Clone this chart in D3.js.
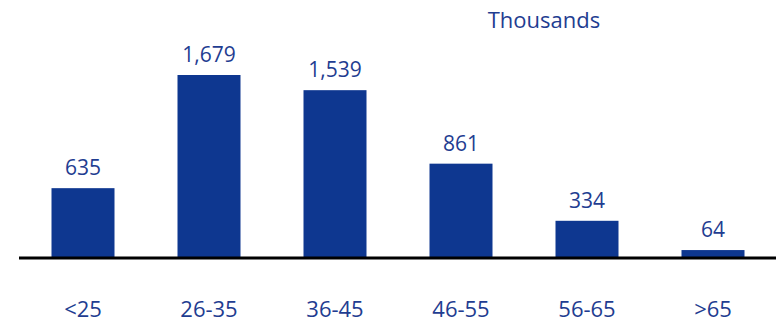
<!DOCTYPE html>
<html>
<head>
<meta charset="utf-8">
<script src="https://d3js.org/d3.v7.min.js"></script>
<style>
  body { margin: 0; background: #fff; }
  text { font-family: 'Open Sans', sans-serif; fill: #1f3d91; }
</style>
</head>
<body>
<svg id="chart" width="776" height="323"></svg>
<script>
  var categories = ["<25", "26-35", "36-45", "46-55", "56-65", ">65"];
  var values = [635, 1679, 1539, 861, 334, 64];
  var unitLabel = "Thousands";

  var svg = d3.select("#chart");
  var baseY = 257;

  var x = d3.scaleBand().domain(categories).range([20, 776]).paddingInner(0.5).paddingOuter(0.25);
  var y = d3.scaleLinear().domain([0, 1679]).range([baseY, 75]);

  svg.append("g").selectAll("rect")
    .data(values).join("rect")
    .attr("x", (d, i) => x(categories[i]))
    .attr("y", d => y(d))
    .attr("width", x.bandwidth())
    .attr("height", d => baseY - y(d))
    .attr("fill", "#0e3790");

  // value labels above bars
  svg.append("g").selectAll("text")
    .data(values).join("text")
    .attr("x", (d, i) => x(categories[i]) + x.bandwidth() / 2)
    .attr("y", d => y(d) - 13)
    .attr("text-anchor", "middle")
    .style("font-size", "21px")
    .text(d => d3.format(",")(d));

  // baseline
  svg.append("line")
    .attr("x1", 19).attr("x2", 776)
    .attr("y1", baseY + 1).attr("y2", baseY + 1)
    .attr("stroke", "#000").attr("stroke-width", 3);

  // category labels
  svg.append("g").selectAll("text")
    .data(categories).join("text")
    .attr("x", d => x(d) + x.bandwidth() / 2)
    .attr("y", 317)
    .attr("text-anchor", "middle")
    .style("font-size", "22px")
    .text(d => d);

  svg.append("text")
    .attr("x", 544).attr("y", 28)
    .attr("text-anchor", "middle")
    .style("font-size", "22px")
    .text(unitLabel);
</script>
</body>
</html>
